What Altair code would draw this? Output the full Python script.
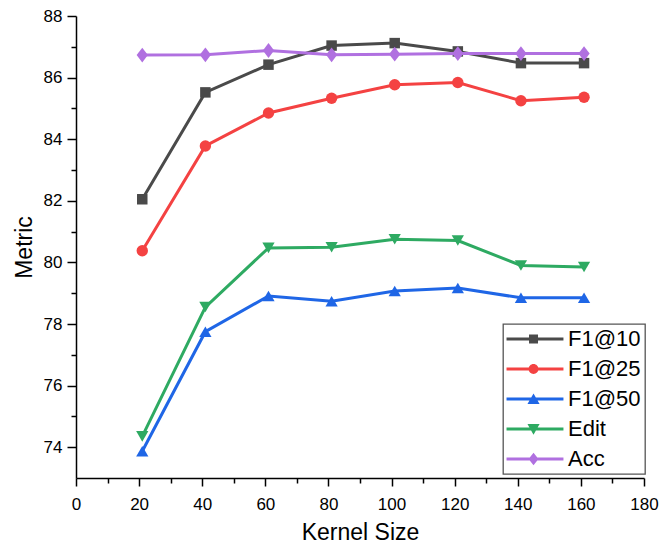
import altair as alt
import pandas as pd

kernel = [21, 41, 61, 81, 101, 121, 141, 161]
names = ["F1@10", "F1@25", "F1@50", "Edit", "Acc"]
f1_10 = [82.05, 85.52, 86.42, 87.04, 87.12, 86.85, 86.47, 86.47]
f1_25 = [80.38, 83.78, 84.85, 85.33, 85.77, 85.84, 85.25, 85.36]
f1_50 = [73.87, 77.75, 78.91, 78.74, 79.07, 79.17, 78.85, 78.85]
edit = [74.35, 78.55, 80.47, 80.49, 80.75, 80.71, 79.90, 79.85]
acc = [86.73, 86.74, 86.88, 86.74, 86.76, 86.78, 86.78, 86.78]
colors = ["#4a4a4a", "#f44242", "#1f66e6", "#2eaa62", "#b070e0"]

series_values = [f1_10, f1_25, f1_50, edit, acc]
rows = []
for n, vals in zip(names, series_values):
    for k, v in zip(kernel, vals):
        rows.append({"kernel": k, "metric": v, "series": n})
df = pd.DataFrame(rows)

diamond = "M0,-1.25L0.95,0L0,1.25L-0.95,0Z"
plot_shapes = ["square", "circle", "triangle-up", "triangle-down", diamond]
plot_sizes = [110, 130, 150, 150, 140]

legend_paths = [
    "M-2.55,-0.33H10.1V0.33H-2.55Z M2.45,-1H4.45V1H2.45Z",
    "M-2.55,-0.33H10.1V0.33H-2.55Z M4.55,0A1.1,1.1,0,1,1,2.35,0A1.1,1.1,0,1,1,4.55,0Z",
    "M-2.55,-0.33H10.1V0.33H-2.55Z M3.45,-1.25L4.8,1.1L2.1,1.1Z",
    "M-2.55,-0.33H10.1V0.33H-2.55Z M3.45,1.25L2.1,-1.1L4.8,-1.1Z",
    "M-2.55,-0.33H10.1V0.33H-2.55Z M3.45,-1.4L4.55,0L3.45,1.4L2.35,0Z",
]

FONT = "Liberation Sans"

xaxis = alt.Axis(
    values=list(range(0, 181, 10)),
    labelExpr="datum.value % 20 === 0 ? datum.label : ''",
    tickSize={"condition": {"test": "datum.value % 20 === 0", "value": 8}, "value": 5},
    labelOverlap=False,
    labelFlush=False,
    labelPadding=10,
    titlePadding=9,
    grid=False,
)
yaxis = alt.Axis(
    values=list(range(74, 89, 1)),
    labelExpr="datum.value % 2 === 0 ? datum.label : ''",
    tickSize={"condition": {"test": "datum.value % 2 === 0", "value": 9}, "value": 5},
    labelOverlap=False,
    labelFlush=False,
    labelPadding=5,
    titlePadding=7,
    grid=False,
)

X = alt.X("kernel:Q", scale=alt.Scale(domain=[0, 180], nice=False, zero=False),
          axis=xaxis, title="Kernel Size")
Y = alt.Y("metric:Q", scale=alt.Scale(domain=[73, 88], nice=False, zero=False),
          axis=yaxis, title="Metric")

base = alt.Chart(df)
layers = []
for n, col, shp, sz in zip(names, colors, plot_shapes, plot_sizes):
    sub = base.transform_filter(alt.datum.series == n)
    layers.append(sub.mark_line(strokeWidth=3, color=col).encode(x=X, y=Y))
    layers.append(sub.mark_point(filled=True, shape=shp, size=sz, opacity=1, color=col).encode(x=X, y=Y))

leg = dict(
    orient="none", legendX=427, legendY=308, title=None,
    labelFont=FONT, labelFontSize=22, labelColor="black",
    symbolSize=81, symbolStrokeWidth=0, symbolOpacity=1,
    labelOffset=39, rowPadding=8, padding=4,
    strokeColor="#555555", fillColor="white",
)
legend_layer = base.mark_point(filled=True, size=81).encode(
    x=X, y=Y,
    opacity=alt.value(0),
    color=alt.Color("series:N", scale=alt.Scale(domain=names, range=colors), legend=alt.Legend(**leg)),
    shape=alt.Shape("series:N", scale=alt.Scale(domain=names, range=legend_paths), legend=alt.Legend(**leg)),
)
layers.append(legend_layer)

chart = alt.layer(*layers).properties(
    width=568, height=462,
    autosize=alt.AutoSizeParams(type="none"),
    padding={"left": 68, "top": 8, "right": 16, "bottom": 68},
).configure_view(stroke=None).configure_axis(
    domainColor="black", domainWidth=1.5, tickColor="black", tickWidth=1.5,
    labelFont=FONT, labelFontSize=17, labelColor="black",
    titleFont=FONT, titleFontSize=23, titleFontWeight="normal", titleColor="black",
).configure_legend(strokeWidth=1.3, labelFontSize=22, labelFont=FONT, labelColor="black")

chart.save("out.html", embed_options={"renderer": "svg", "actions": False})
